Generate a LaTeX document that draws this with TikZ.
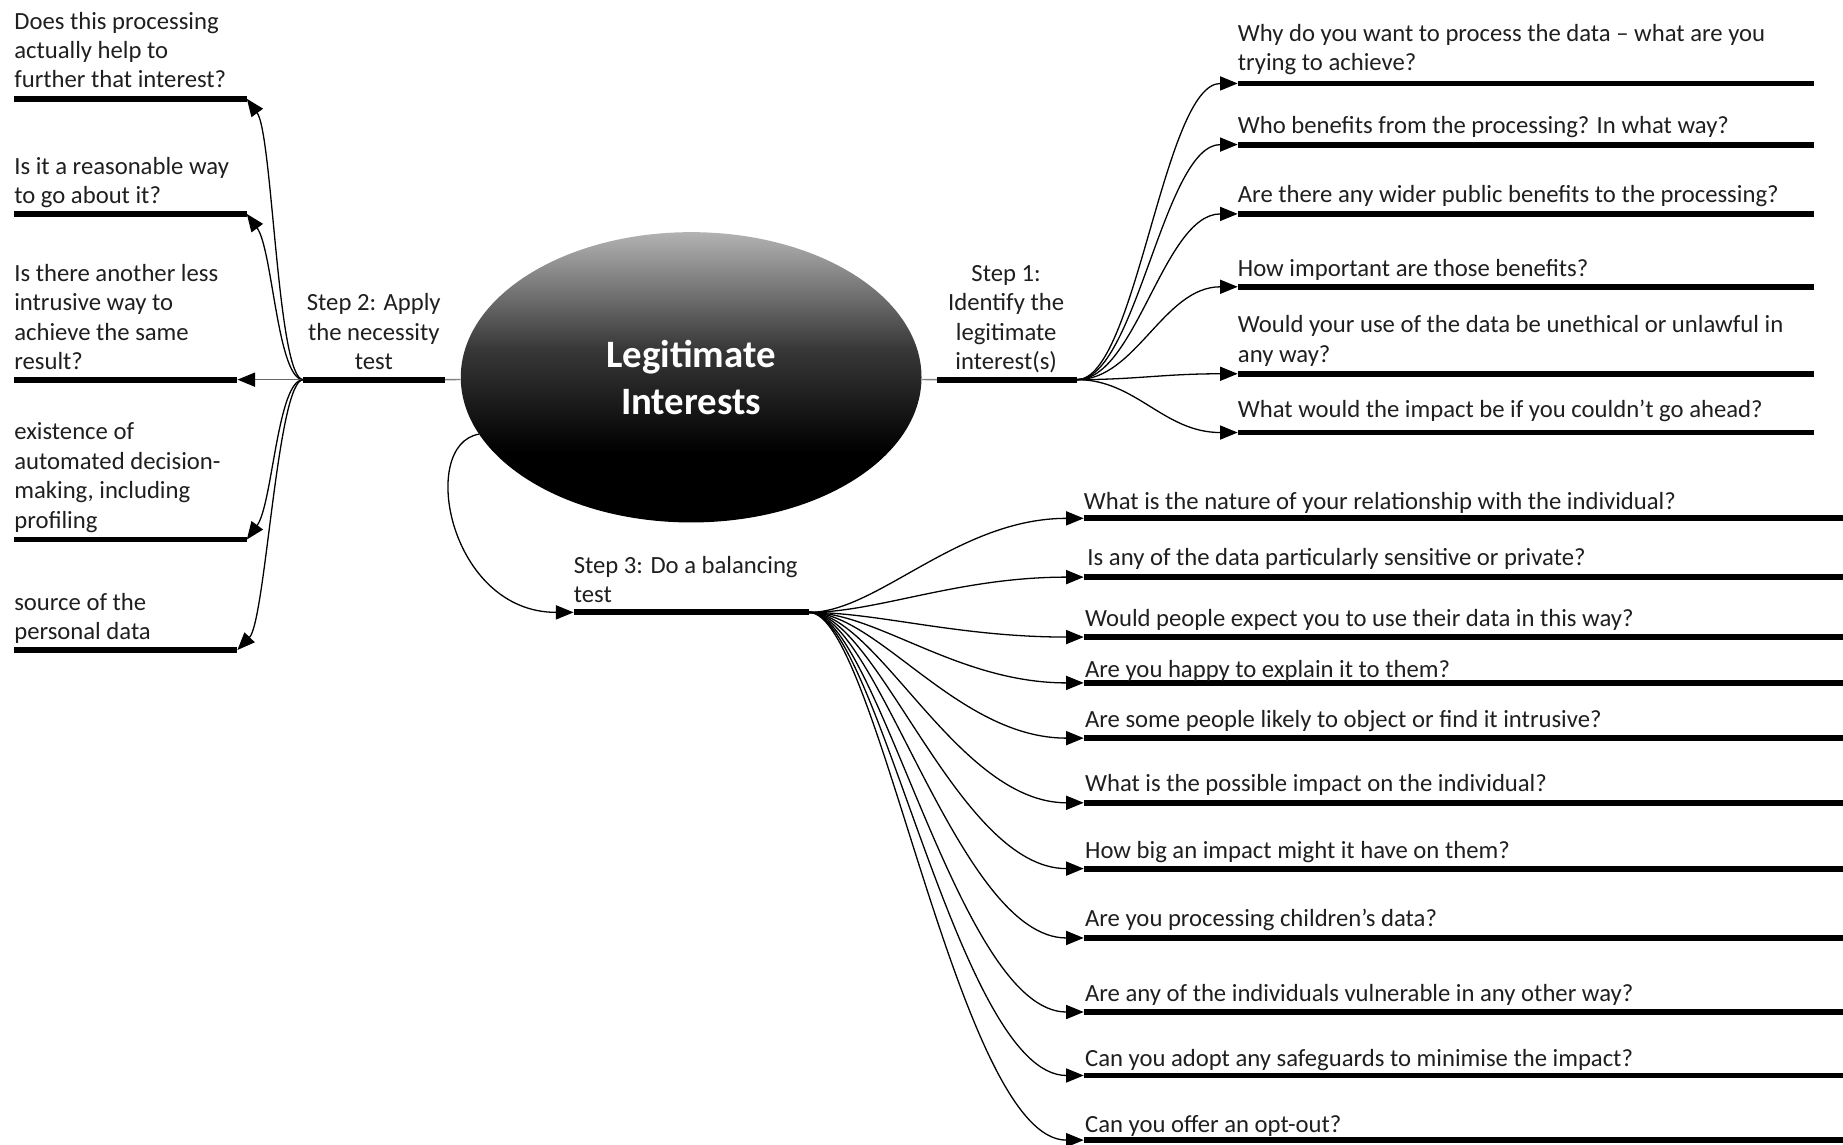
\documentclass[tikz,border=0pt]{standalone}
\usepackage{fontspec}
\setmainfont{Carlito}
\usetikzlibrary{arrows.meta,shapes.geometric}
\pgfdeclareverticalshading{lishade}{100bp}{color(0bp)=(black); color(25bp)=(black); color(37bp)=(black); color(55bp)=(black!78); color(75bp)=(black!30); color(100bp)=(black!30)}
\tikzset{
  x=1pt, y=-1pt,
  lbl/.style={font=\fontsize{21}{25}\selectfont, inner sep=0pt, align=left, text=black!88, execute at end node=\strut},
  ctrlbl/.style={lbl, align=center},
  barnode/.style={fill=black, draw=none, inner sep=0pt, minimum height=5pt},
  conn/.style={draw=black, line width=1.1pt, -{Triangle[length=15pt,width=12pt,color=black]}},
  plainline/.style={draw=black!50, line width=1.2pt},
}
\begin{document}
\begin{tikzpicture}
\useasboundingbox (0,0) rectangle (1568,974);
\fill[white] (0,0) rectangle (1568,974);

% central ellipse
\node[ellipse, minimum width=392pt, minimum height=247pt, inner sep=0pt, shading=lishade, text=white,
      font=\bfseries\fontsize{33}{40}\selectfont, align=center] (ell) at (588,321) {Legitimate\\Interests};

% step bars and labels
\node[barnode, anchor=west, minimum width=119pt] (s1bar) at (797,323) {};
\node[ctrlbl, anchor=south] (s1txt) at (856,322) {Step 1:\\Identify the\\legitimate\\interest(s)};
\node[barnode, anchor=west, minimum width=120pt] (s2bar) at (258,323) {};
\node[ctrlbl, anchor=south] (s2txt) at (318,322) {Step 2: Apply\\the necessity\\test};
\node[barnode, anchor=west, minimum width=200pt] (s3bar) at (488,521) {};
\node[lbl, anchor=south west] (s3txt) at (488,520.5) {Step 3: Do a balancing\\test};

\draw[plainline] (ell) -- (s1bar.west);
\draw[plainline] (ell) -- (s2bar.east);
\draw[conn] (ell.195) .. controls +(-52,9) and +(-106,0) .. (s3bar.west);

% left leaves (step 2)
\node[barnode, anchor=east, minimum width=198pt] (lb1) at (210,84) {};
\node[lbl, anchor=south west] (lt1) at (12,82.5) {Does this processing\\actually help to\\further that interest?};
\node[barnode, anchor=east, minimum width=198pt] (lb2) at (210,182) {};
\node[lbl, anchor=south west] (lt2) at (12,181) {Is it a reasonable way\\to go about it?};
\node[barnode, anchor=east, minimum width=190pt] (lb3) at (202,323) {};
\node[lbl, anchor=south west] (lt3) at (12,322) {Is there another less\\intrusive way to\\achieve the same\\result?};
\node[barnode, anchor=east, minimum width=198pt] (lb4) at (210,459) {};
\node[lbl, anchor=south west] (lt4) at (12,457) {existence of\\automated decision-\\making, including\\profiling};
\node[barnode, anchor=east, minimum width=190pt] (lb5) at (202,553) {};
\node[lbl, anchor=south west] (lt5) at (12,552) {source of the\\personal data};

\draw[conn] (s2bar.west) .. controls +(-22,0) and +(22,30) .. (lb1.east);
\draw[conn] (s2bar.west) .. controls +(-22,0) and +(22,30) .. (lb2.east);
\draw[conn, draw=black!60] (s2bar.west) -- (lb3.east);
\draw[conn] (s2bar.west) .. controls +(-22,0) and +(22,-30) .. (lb4.east);
\draw[conn] (s2bar.west) .. controls +(-22,0) and +(24,-25) .. (lb5.east);

% right leaves (step 1)
\node[barnode, anchor=west, minimum width=490pt] (r1) at (1053,71) {};
\node[lbl, anchor=south west] (rt1) at (1053,68) {Why do you want to process the data – what are you\\trying to achieve?};
\node[barnode, anchor=west, minimum width=490pt] (r2) at (1053,123) {};
\node[lbl, anchor=south west] (rt2) at (1053,121) {Who benefits from the processing? In what way?};
\node[barnode, anchor=west, minimum width=490pt] (r3) at (1053,182) {};
\node[lbl, anchor=south west] (rt3) at (1053,180) {Are there any wider public benefits to the processing?};
\node[barnode, anchor=west, minimum width=490pt] (r4) at (1053,244) {};
\node[lbl, anchor=south west] (rt4) at (1053,243) {How important are those benefits?};
\node[barnode, anchor=west, minimum width=490pt] (r5) at (1053,318) {};
\node[lbl, anchor=south west] (rt5) at (1053,316) {Would your use of the data be unethical or unlawful in\\any way?};
\node[barnode, anchor=west, minimum width=490pt] (r6) at (1053,368) {};
\node[lbl, anchor=south west] (rt6) at (1053,363) {What would the impact be if you couldn’t go ahead?};

\foreach \n in {r1,r2,r3,r4,r5,r6}
  \draw[conn] (s1bar.east) .. controls +(50,0) and +(-63,0) .. (\n.west);

% right leaves (step 3)
\node[barnode, anchor=west, minimum width=646pt] (q1) at (922,441) {};
\node[lbl, anchor=south west] (qt1) at (922,441) {What is the nature of your relationship with the individual?};
\node[barnode, anchor=west, minimum width=646pt] (q2) at (922,491) {};
\node[lbl, anchor=south west] (qt2) at (925,489) {Is any of the data particularly sensitive or private?};
\node[barnode, anchor=west, minimum width=646pt] (q3) at (922,542) {};
\node[lbl, anchor=south west] (qt3) at (923,541) {Would people expect you to use their data in this way?};
\node[barnode, anchor=west, minimum width=646pt] (q4) at (922,581) {};
\node[lbl, anchor=south west] (qt4) at (923,584) {Are you happy to explain it to them?};
\node[barnode, anchor=west, minimum width=646pt] (q5) at (922,628) {};
\node[lbl, anchor=south west] (qt5) at (923,627) {Are some people likely to object or find it intrusive?};
\node[barnode, anchor=west, minimum width=646pt] (q6) at (922,683) {};
\node[lbl, anchor=south west] (qt6) at (923,681) {What is the possible impact on the individual?};
\node[barnode, anchor=west, minimum width=646pt] (q7) at (922,739) {};
\node[lbl, anchor=south west] (qt7) at (923,738) {How big an impact might it have on them?};
\node[barnode, anchor=west, minimum width=646pt] (q8) at (922,798) {};
\node[lbl, anchor=south west] (qt8) at (923,796) {Are you processing children’s data?};
\node[barnode, anchor=west, minimum width=646pt] (q9) at (922,861) {};
\node[lbl, anchor=south west] (qt9) at (923,860) {Are any of the individuals vulnerable in any other way?};
\node[barnode, anchor=west, minimum width=646pt] (q10) at (922,915) {};
\node[lbl, anchor=south west] (qt10) at (923,915) {Can you adopt any safeguards to minimise the impact?};
\node[barnode, anchor=west, minimum width=646pt] (q11) at (922,970) {};
\node[lbl, anchor=south west] (qt11) at (923,971) {Can you offer an opt-out?};

\foreach \n in {q1,q2,q3,q4,q5,q6,q7,q8,q9,q10,q11}
  \draw[conn] (s3bar.east) .. controls +(58,0) and +(-107,0) .. (\n.west);
\end{tikzpicture}
\end{document}
